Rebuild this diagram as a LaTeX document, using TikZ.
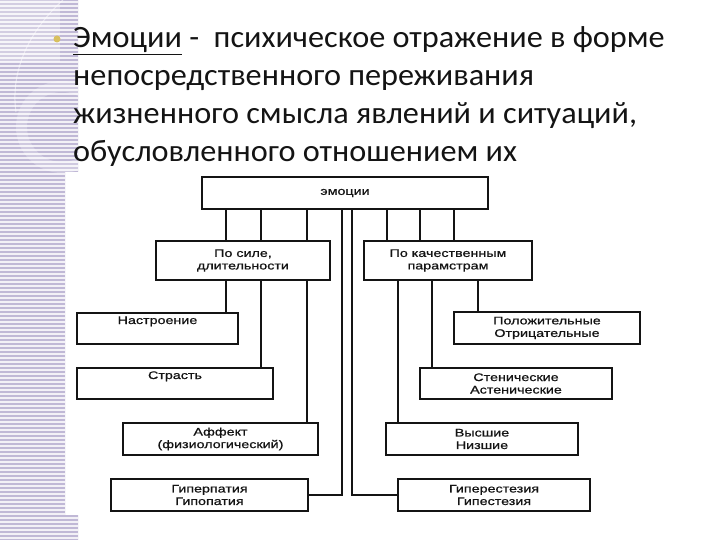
\documentclass[tikz,border=0pt]{standalone}
\usepackage{fontspec}
\setmainfont[FakeStretch=1.04]{Carlito}
\newfontfamily\boxfont[FakeStretch=1.3,FakeBold=0.8]{Liberation Sans}
\usetikzlibrary{calc}
\definecolor{lav}{RGB}{192,184,214}
\definecolor{bul}{RGB}{216,192,96}
\definecolor{ink}{RGB}{20,20,20}
\newcommand{\ulword}[1]{\underline{#1}}
\begin{document}
\begin{tikzpicture}[x=1pt,y=-1pt,
  box/.style={draw=ink, line width=1.1pt, fill=white, inner sep=2pt, text=ink,
    font=\boxfont\fontsize{11}{12.5}\selectfont, align=center},
  topbox/.style={box, text height=8pt, text depth=17pt, inner ysep=3pt},
  conn/.style={draw=ink, line width=1.7pt},
  title/.style={anchor=base west, inner sep=0pt, text=ink, font=\fontsize{31}{38}\selectfont}]
\useasboundingbox (0,0) rectangle (720,540);
\fill[white] (0,0) rectangle (720,540);
% decorative stripe
\begin{scope}
  \clip (0,0) -- (78,0) -- (78,172) -- (65,172) -- (65,515) -- (78,515) -- (78,540) -- (0,540) -- cycle;
  \fill[lav] (0,0) rectangle (80,540);
  \fill[white, opacity=0.3] (0,0) rectangle (60,62);
  \fill[white, opacity=0.25, even odd rule] (62,127) circle[radius=46pt] (62,127) circle[radius=35pt];
  \draw[white, opacity=0.5, line width=1pt] (63,0) .. controls (30,30) and (10,70) .. (16,112);
  \foreach \yy in {2,6,...,538} \draw[white, line width=1.2pt, opacity=0.8] (0,\yy) -- (80,\yy);
\end{scope}
% bullet
\fill[bul] (57,39) circle[radius=3.5pt];
% title text
\node[title] (t1) at (73,48) {\ulword{Эмоции} - \ психическое отражение в форме};
\node[title] (t2) at (73,86) {непосредственного переживания};
\node[title] (t3) at (73,124) {жизненного смысла явлений и ситуаций,};
\node[title] (t4) at (73,162) {обусловленного отношением их};
% boxes
\node[box, minimum width=286pt, minimum height=32pt] (emo) at (345,193) {эмоции};
\node[box, minimum width=174pt, minimum height=39pt] (sila) at (243,260.5) {По силе,\\длительности};
\node[box, minimum width=168pt, minimum height=39pt] (kach) at (448,260.5) {По качественным\\парамстрам};
\node[topbox, minimum width=161pt, minimum height=31pt] (nastr) at (157.5,328.5) {Настроение};
\node[topbox, minimum width=196pt, minimum height=31pt] (strast) at (175,383.5) {Страсть};
\node[box, minimum width=195pt, minimum height=32pt] (affekt) at (220.5,439) {Аффект\\(физиологический)};
\node[box, minimum width=197pt, minimum height=32pt] (giperpat) at (209.5,495) {Гиперпатия\\Гипопатия};
\node[box, minimum width=186pt, minimum height=32pt] (polozh) at (547,328) {Положительные\\Отрицательные};
\node[box, minimum width=192pt, minimum height=31pt] (stenich) at (516,383.5) {Стенические\\Астенические};
\node[box, minimum width=192pt, minimum height=32pt] (vyssh) at (482,439) {Высшие\\Низшие};
\node[box, minimum width=192pt, minimum height=32pt] (giperest) at (494,495) {Гиперестезия\\Гипестезия};
% connectors
\draw[conn] (226,0 |- emo.south) -- (226,0 |- sila.north);
\draw[conn] (261,0 |- emo.south) -- (261,0 |- sila.north);
\draw[conn] (307,0 |- emo.south) -- (307,0 |- sila.north);
\draw[conn] (387,0 |- emo.south) -- (387,0 |- kach.north);
\draw[conn] (420,0 |- emo.south) -- (420,0 |- kach.north);
\draw[conn] (454,0 |- emo.south) -- (454,0 |- kach.north);
\draw[conn] (342,0 |- emo.south) |- (giperpat.east);
\draw[conn] (352,0 |- emo.south) |- (giperest.west);
\draw[conn] (226,0 |- sila.south) -- (226,0 |- nastr.north);
\draw[conn] (261,0 |- sila.south) -- (261,0 |- strast.north);
\draw[conn] (307,0 |- sila.south) -- (307,0 |- affekt.north);
\draw[conn] (398,0 |- kach.south) -- (398,0 |- vyssh.north);
\draw[conn] (432,0 |- kach.south) -- (432,0 |- stenich.north);
\draw[conn] (478,0 |- kach.south) -- (478,0 |- polozh.north);
\end{tikzpicture}
\end{document}
